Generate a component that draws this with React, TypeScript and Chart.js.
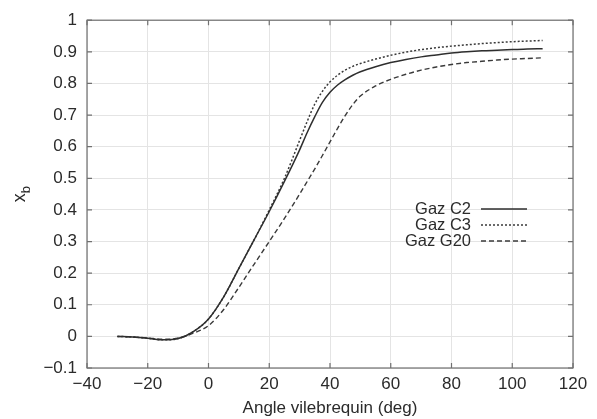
import { useEffect, useRef } from 'react';
import { Chart, registerables } from 'chart.js';

Chart.register(...registerables);

const angles = [-30, -25, -20, -15, -10, -5, 0, 5, 10, 15, 20, 25, 30, 32.5, 35, 37.5, 40, 42.5, 45, 47.5, 50, 55, 60, 65, 70, 75, 80, 85, 90, 95, 100, 105, 110];
const gazC2 = [0, -0.002, -0.006, -0.011, -0.007, 0.015, 0.055, 0.125, 0.215, 0.305, 0.395, 0.49, 0.59, 0.645, 0.695, 0.74, 0.772, 0.795, 0.812, 0.826, 0.837, 0.853, 0.866, 0.876, 0.884, 0.89, 0.896, 0.9, 0.903, 0.905, 0.907, 0.909, 0.91];
const gazC3 = [0, -0.002, -0.006, -0.011, -0.007, 0.015, 0.055, 0.125, 0.215, 0.305, 0.4, 0.5, 0.62, 0.68, 0.735, 0.775, 0.805, 0.826, 0.842, 0.854, 0.863, 0.877, 0.889, 0.899, 0.907, 0.913, 0.918, 0.922, 0.926, 0.929, 0.932, 0.934, 0.936];
const gazG20 = [0, -0.002, -0.005, -0.009, -0.006, 0.01, 0.034, 0.085, 0.155, 0.228, 0.3, 0.373, 0.45, 0.49, 0.53, 0.572, 0.615, 0.658, 0.698, 0.733, 0.76, 0.792, 0.813, 0.829, 0.842, 0.852, 0.86, 0.866, 0.87, 0.874, 0.877, 0.879, 0.881];
const seriesLabels = ['Gaz C2', 'Gaz C3', 'Gaz G20'];
const xTicks = [-40, -20, 0, 20, 40, 60, 80, 100, 120];
const yTicks = [-0.1, 0, 0.1, 0.2, 0.3, 0.4, 0.5, 0.6, 0.7, 0.8, 0.9, 1];
const xTitle = 'Angle vilebrequin (deg)';
const yTitleMain = 'x';
const yTitleSub = 'b';

const FONT = '"Liberation Sans", Arial, Helvetica, sans-serif';
const TEXT = '#2b2b2b';

const fmt = (v: number) => {
  const s = String(Math.round(v * 10) / 10);
  return s.replace('-', '\u2212');
};

const framePlugin = {
  id: 'gnuFrame',
  afterDatasetsDraw(chart: any) {
    const { ctx, chartArea: a, scales } = chart;
    ctx.save();
    ctx.strokeStyle = '#707070';
    ctx.lineWidth = 1.2;
    ctx.strokeRect(a.left, a.top, a.right - a.left, a.bottom - a.top);
    const tl = 5;
    ctx.beginPath();
    xTicks.forEach((v) => {
      const x = scales.x.getPixelForValue(v);
      ctx.moveTo(x, a.bottom);
      ctx.lineTo(x, a.bottom - tl);
      ctx.moveTo(x, a.top);
      ctx.lineTo(x, a.top + tl);
    });
    yTicks.forEach((v) => {
      const y = scales.y.getPixelForValue(v);
      ctx.moveTo(a.left, y);
      ctx.lineTo(a.left + tl, y);
      ctx.moveTo(a.right, y);
      ctx.lineTo(a.right - tl, y);
    });
    ctx.stroke();

    ctx.fillStyle = TEXT;
    ctx.font = `17px ${FONT}`;
    ctx.textAlign = 'center';
    ctx.textBaseline = 'middle';
    ctx.fillText(xTitle, (a.left + a.right) / 2, 408);

    ctx.save();
    ctx.translate(21, (a.top + a.bottom) / 2);
    ctx.rotate(-Math.PI / 2);
    ctx.textAlign = 'left';
    ctx.textBaseline = 'alphabetic';
    ctx.font = `18px ${FONT}`;
    const wx = ctx.measureText(yTitleMain).width;
    ctx.font = `13px ${FONT}`;
    const wb = ctx.measureText(yTitleSub).width;
    const total = wx + wb;
    ctx.font = `18px ${FONT}`;
    ctx.fillText(yTitleMain, -total / 2, 4);
    ctx.font = `13px ${FONT}`;
    ctx.fillText(yTitleSub, -total / 2 + wx, 9);
    ctx.restore();

    const rows = [209, 225, 241];
    chart.data.datasets.forEach((ds: any, i: number) => {
      const y = rows[i];
      ctx.fillStyle = TEXT;
      ctx.font = `16.5px ${FONT}`;
      ctx.textAlign = 'right';
      ctx.textBaseline = 'middle';
      ctx.fillText(ds.label, 471, y);
      ctx.strokeStyle = ds.borderColor;
      ctx.lineWidth = ds.borderWidth;
      ctx.setLineDash(ds.borderDash || []);
      ctx.beginPath();
      ctx.moveTo(481, y);
      ctx.lineTo(527, y);
      ctx.stroke();
      ctx.setLineDash([]);
    });
    ctx.restore();
  },
};

export default function App() {
  const ref = useRef<HTMLCanvasElement | null>(null);
  useEffect(() => {
    if (!ref.current) return;
    const mk = (vals: number[]) => angles.map((x, i) => ({ x, y: vals[i] }));
    const chart = new Chart(ref.current, {
      type: 'line',
      data: {
        datasets: [
          { label: seriesLabels[0], data: mk(gazC2), borderColor: '#2e2e2e', borderWidth: 1.5, borderDash: [], pointRadius: 0, cubicInterpolationMode: 'monotone', fill: false },
          { label: seriesLabels[1], data: mk(gazC3), borderColor: '#3a3a3a', borderWidth: 1.5, borderDash: [2, 2], pointRadius: 0, cubicInterpolationMode: 'monotone', fill: false },
          { label: seriesLabels[2], data: mk(gazG20), borderColor: '#3a3a3a', borderWidth: 1.4, borderDash: [5, 3], pointRadius: 0, cubicInterpolationMode: 'monotone', fill: false },
        ] as any,
      },
      options: {
        animation: false,
        responsive: true,
        maintainAspectRatio: false,
        layout: { padding: { top: 17, right: 24, left: 0, bottom: 0 } },
        plugins: { legend: { display: false }, tooltip: { enabled: false } },
        scales: {
          x: {
            type: 'linear',
            min: -40,
            max: 120,
            afterBuildTicks: (s: any) => { s.ticks = xTicks.map((v) => ({ value: v })); },
            afterFit: (s: any) => { s.height = 51; },
            grid: { color: '#e4e4e4', lineWidth: 1, drawTicks: false },
            border: { display: false },
            ticks: { padding: 6, color: TEXT, font: { family: FONT, size: 17 }, callback: (v: any) => fmt(Number(v)), maxRotation: 0, autoSkip: false },
          },
          y: {
            type: 'linear',
            min: -0.1,
            max: 1,
            afterBuildTicks: (s: any) => { s.ticks = yTicks.map((v) => ({ value: v })); },
            afterFit: (s: any) => { s.width = 87; },
            grid: { color: '#e4e4e4', lineWidth: 1, drawTicks: false },
            border: { display: false },
            ticks: { padding: 10, color: TEXT, font: { family: FONT, size: 17 }, callback: (v: any) => fmt(Number(v)), autoSkip: false },
          },
        },
      },
      plugins: [framePlugin],
    });
    return () => chart.destroy();
  }, []);
  return (
    <div style={{ position: 'fixed', left: 0, top: 0, width: 597, height: 419, background: '#fff' }}>
      <canvas ref={ref} />
    </div>
  );
}
